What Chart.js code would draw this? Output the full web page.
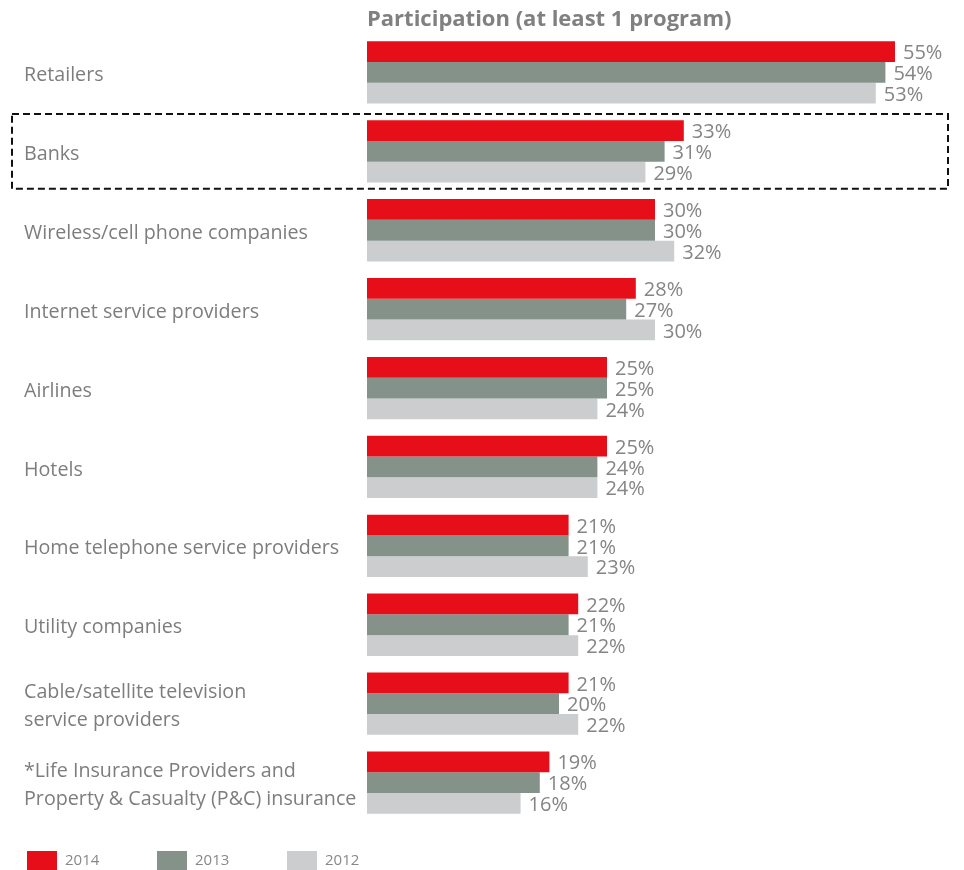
<!DOCTYPE html>
<html>
<head>
<meta charset="utf-8">
<script src="https://cdn.jsdelivr.net/npm/chart.js@4"></script>
<style>
  body { margin: 0; background: #fff; }
</style>
</head>
<body>
<canvas id="barCanvas" width="964" height="870"></canvas>
<script>
// categories et valeurs (%)
const categories = [
  "Retailers",
  "Banks",
  "Wireless/cell phone companies",
  "Internet service providers",
  "Airlines",
  "Hotels",
  "Home telephone service providers",
  "Utility companies",
  ["Cable/satellite television", "service providers"],
  ["*Life Insurance Providers and", "Property & Casualty (P&C) insurance"]
];
const years = ["2014", "2013", "2012"];
const values2014 = [55, 33, 30, 28, 25, 25, 21, 22, 21, 19];
const values2013 = [54, 31, 30, 27, 25, 24, 21, 21, 20, 18];
const values2012 = [53, 29, 32, 30, 24, 24, 23, 22, 22, 16];
const colors = ["#e60f19", "#85928a", "#cccdcf"];
const highlightIndex = 1; // Banks

const textGray = "#7d7d7d";

// titre au-dessus de la zone du graphique
const titlePlugin = {
  id: "titlePlugin",
  afterDraw(chart) {
    const ctx = chart.ctx;
    ctx.save();
    ctx.font = "bold 22px 'Open Sans'";
    ctx.fillStyle = "#808080";
    ctx.textBaseline = "middle";
    ctx.textAlign = "left";
    ctx.fillText("Participation (at least 1 program)", chart.chartArea.left, 20);
    ctx.restore();
  }
};

// etiquettes de valeurs a droite des barres
const valueLabels = {
  id: "valueLabels",
  afterDatasetsDraw(chart) {
    const ctx = chart.ctx;
    ctx.save();
    ctx.font = "20px 'Open Sans'";
    ctx.fillStyle = "#858585";
    ctx.textBaseline = "middle";
    ctx.textAlign = "left";
    chart.data.datasets.forEach((ds, i) => {
      chart.getDatasetMeta(i).data.forEach((bar, j) => {
        ctx.fillText(ds.data[j] + "%", bar.x + 8, bar.y + 2);
      });
    });
    ctx.restore();
  }
};

// cadre pointille autour de "Banks"
const highlightBox = {
  id: "highlightBox",
  afterDraw(chart) {
    const y = chart.scales.y;
    const step = y.getPixelForValue(1) - y.getPixelForValue(0);
    const cy = y.getPixelForValue(highlightIndex);
    const ctx = chart.ctx;
    ctx.save();
    ctx.strokeStyle = "#111";
    ctx.lineWidth = 2;
    ctx.setLineDash([7, 4]);
    ctx.strokeRect(12, cy - step / 2 + 2, 936, step - 4);
    ctx.restore();
  }
};

// legende en bas
const bottomLegend = {
  id: "bottomLegend",
  afterDraw(chart) {
    const ctx = chart.ctx;
    ctx.save();
    ctx.font = "15px 'Open Sans'";
    ctx.textBaseline = "middle";
    ctx.textAlign = "left";
    chart.data.datasets.forEach((ds, i) => {
      const x = 27 + i * 130;
      ctx.fillStyle = ds.backgroundColor;
      ctx.fillRect(x, 851, 30, 19);
      ctx.fillStyle = "#888";
      ctx.fillText(ds.label, x + 38, 861);
    });
    ctx.restore();
  }
};

const barCanvas = document.getElementById("barCanvas");

const barChart = new Chart(barCanvas, {
  type: "bar",
  data: {
    labels: categories,
    datasets: [
      { label: years[0], data: values2014, backgroundColor: colors[0] },
      { label: years[1], data: values2013, backgroundColor: colors[1] },
      { label: years[2], data: values2012, backgroundColor: colors[2] }
    ]
  },
  options: {
    indexAxis: "y",
    responsive: false,
    animation: false,
    layout: { padding: { left: 24, right: 21, top: 33, bottom: 48 } },
    datasets: {
      bar: { categoryPercentage: 0.79, barPercentage: 1.0, borderWidth: 0 }
    },
    plugins: {
      legend: { display: false },
      tooltip: { enabled: false }
    },
    scales: {
      x: {
        min: 0,
        max: 60,
        display: false,
        grid: { display: false }
      },
      y: {
        grid: { display: false },
        border: { display: false },
        afterFit(scale) { scale.width = 343; },
        ticks: {
          crossAlign: "far",
          color: textGray,
          padding: 0,
          labelOffset: 3,
          font: { family: "'Open Sans'", size: 19.7, lineHeight: 1.42 }
        }
      }
    }
  },
  plugins: [titlePlugin, valueLabels, highlightBox, bottomLegend]
});
</script>
</body>
</html>
